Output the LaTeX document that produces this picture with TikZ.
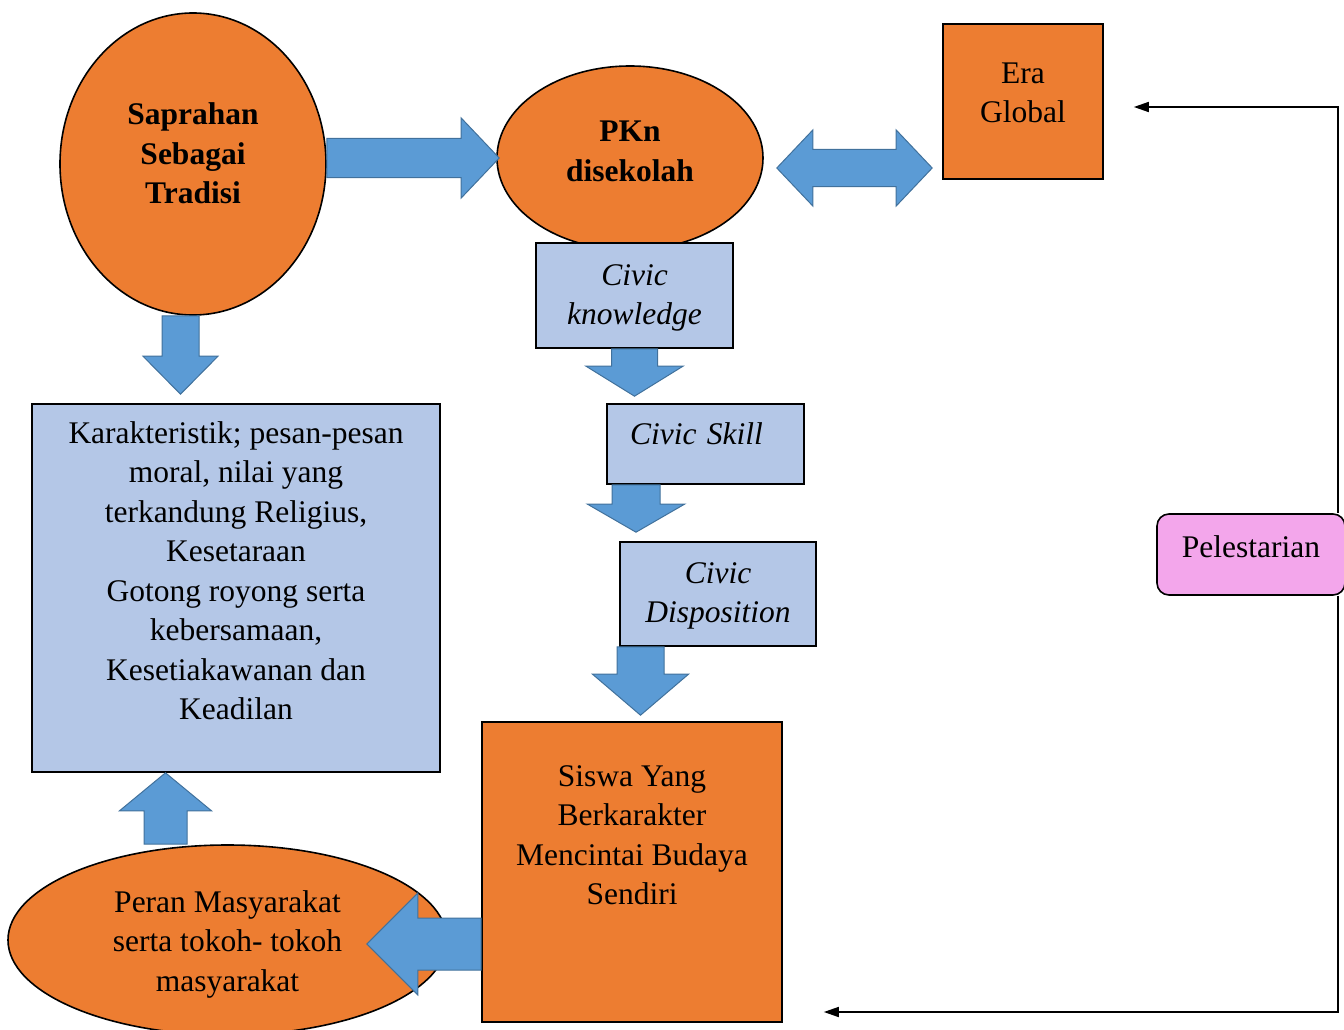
\documentclass[tikz,border=0pt]{standalone}
\usepackage{fontspec}
\setmainfont{Liberation Serif}
\usepackage{tikz}
\usetikzlibrary{shapes.geometric,arrows.meta,calc}

\definecolor{boxorange}{HTML}{ED7D31}
\definecolor{boxblue}{HTML}{B4C7E7}
\definecolor{arrowblue}{HTML}{5B9BD5}
\definecolor{arrowedge}{HTML}{41719C}
\definecolor{boxpink}{HTML}{F3A6EB}

% block arrow: start, tip, shaft half width, head half width, head length
\newcommand{\fatarrow}[5]{%
  \coordinate (fa-b) at ($(#2)!#5!(#1)$);
  \draw[blockarrow] ($(#1)!#3!90:(#2)$) -- ($(fa-b)!#3!90:(#2)$) -- ($(fa-b)!#4!90:(#2)$)
    -- (#2) -- ($(fa-b)!#4!-90:(#2)$) -- ($(fa-b)!#3!-90:(#2)$) -- ($(#1)!#3!-90:(#2)$) -- cycle;
}
% same with a head at both ends
\newcommand{\dblarrow}[5]{%
  \coordinate (da-a) at ($(#1)!#5!(#2)$);
  \coordinate (da-b) at ($(#2)!#5!(#1)$);
  \draw[blockarrow] (#1) -- ($(da-a)!#4!90:(#2)$) -- ($(da-a)!#3!90:(#2)$) -- ($(da-b)!#3!90:(#2)$)
    -- ($(da-b)!#4!90:(#2)$) -- (#2) -- ($(da-b)!#4!-90:(#2)$) -- ($(da-b)!#3!-90:(#2)$)
    -- ($(da-a)!#3!-90:(#2)$) -- ($(da-a)!#4!-90:(#2)$) -- cycle;
}

\begin{document}
\begin{tikzpicture}[x=1pt,y=-1pt,
    every node/.style={font=\fontsize{31.5}{39.5}\selectfont,align=center,inner sep=2pt},
    bold/.style={font=\fontsize{31.5}{39.5}\selectfont\bfseries},
    ital/.style={font=\fontsize{31.5}{39.5}\selectfont\itshape},
    oval/.style={ellipse,draw=black,line width=1.6pt,fill=boxorange,inner sep=0pt},
    obox/.style={rectangle,draw=black,line width=1.6pt,fill=boxorange},
    bbox/.style={rectangle,draw=black,line width=1.6pt,fill=boxblue},
    lift/.style 2 args={text height=#1,text depth=#2},
    blockarrow/.style={fill=arrowblue,draw=arrowedge,line width=1pt,line join=miter},
    flow/.style={draw=black,line width=1.6pt,-{Triangle[length=15pt,width=10pt]}}]
    \useasboundingbox (0,0) rectangle (1344,1030);

    \node[oval,bold,minimum width=266pt,minimum height=302pt,lift={130pt}{50pt}] (sap) at (193,164)
        {Saprahan\\Sebagai\\Tradisi};
    \node[oval,bold,minimum width=266pt,minimum height=184pt,lift={76pt}{30pt}] (pkn) at (630,158)
        {PKn\\disekolah};
    \node[obox,minimum width=160pt,minimum height=155pt,lift={72pt}{30pt}] (era) at (1023,101.5)
        {Era\\Global};
    \node[bbox,ital,minimum width=197pt,minimum height=105pt,lift={78pt}{20pt}] (ck) at (634.5,295.5)
        {Civic\\knowledge};
    \node[bbox,ital,minimum width=197pt,minimum height=80pt,text width=151pt,align=left,
        inner xsep=23pt,lift={30pt}{30pt}] (cs) at (705.5,444) {Civic Skill};
    \node[bbox,ital,minimum width=196pt,minimum height=104pt,lift={77pt}{20pt}] (cd) at (718,594)
        {Civic\\Disposition};
    \node[obox,minimum width=300pt,minimum height=300pt,lift={95pt}{30pt}] (sis) at (632,872)
        {Siswa Yang\\Berkarakter\\Mencintai Budaya\\Sendiri};
    \node[bbox,minimum width=408pt,minimum height=368pt,lift={300pt}{37pt}] (kar) at (236,588)
        {Karakteristik; pesan-pesan\\moral, nilai yang\\terkandung Religius,\\Kesetaraan\\
         Gotong royong serta\\kebersamaan,\\Kesetiakawanan dan\\Keadilan};
    \node[oval,minimum width=439pt,minimum height=190pt,lift={116pt}{14pt}] (per) at (227.5,940)
        {Peran Masyarakat\\serta tokoh- tokoh\\masyarakat};
    \node[rectangle,rounded corners=12pt,draw=black,line width=1.6pt,fill=boxpink,
        minimum width=188pt,minimum height=81pt,lift={30pt}{25pt}] (pel) at (1251,554.5) {Pelestarian};

    % block arrows
    \coordinate (a1s) at (sap.east |- pkn.west);
    \coordinate (a1t) at ([xshift=3pt]pkn.west);
    \fatarrow{a1s}{a1t}{19.5pt}{40pt}{38pt}
    \coordinate (a2s) at ([xshift=-12.5pt]sap.south);
    \coordinate (a2t) at ($(a2s |- kar.north)+(0,-9)$);
    \fatarrow{a2s}{a2t}{18.5pt}{37.5pt}{38pt}
    \coordinate (a3s) at ($(pkn.east)+(13,10)$);
    \coordinate (a3t) at ([xshift=-10pt]era.west |- a3s);
    \dblarrow{a3s}{a3t}{18.5pt}{38pt}{36pt}
    \coordinate (a4s) at (ck.south);
    \coordinate (a4t) at ($(a4s |- cs.north)+(0,-7)$);
    \fatarrow{a4s}{a4t}{23pt}{48.5pt}{30pt}
    \coordinate (a5s) at ([xshift=-69.5pt]cs.south);
    \coordinate (a5t) at ($(a5s |- cd.north)+(0,-9)$);
    \fatarrow{a5s}{a5t}{24pt}{48.5pt}{28pt}
    \coordinate (a6s) at ([xshift=-77.5pt]cd.south);
    \coordinate (a6t) at ($(a6s |- sis.north)+(0,-6)$);
    \fatarrow{a6s}{a6t}{23.5pt}{48pt}{41pt}
    \coordinate (a7s) at ([yshift=-72pt]sis.west);
    \coordinate (a7t) at ($(per.east |- a7s)+(-81,0)$);
    \fatarrow{a7s}{a7t}{26pt}{51pt}{51pt}
    \coordinate (a8s) at ([xshift=-62pt]per.north);
    \coordinate (a8t) at (a8s |- kar.south);
    \fatarrow{a8s}{a8t}{21.5pt}{46pt}{38pt}

    % Pelestarian loop
    \coordinate (ctop) at (1338,107);
    \coordinate (cbot) at (1338,1012);
    \draw[flow] (pel.north -| ctop) -- (ctop) -- ([xshift=30pt]era.east |- ctop);
    \draw[flow] (pel.south -| cbot) -- (cbot) -- ([xshift=41pt]sis.east |- cbot);
\end{tikzpicture}
\end{document}
